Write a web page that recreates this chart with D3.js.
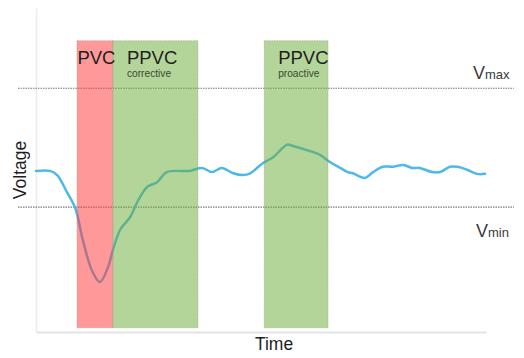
<!DOCTYPE html>
<html>
<head>
<meta charset="utf-8">
<script src="https://cdn.jsdelivr.net/npm/d3@7"></script>
<style>
  html, body { margin: 0; padding: 0; background: #fff; }
  svg { display: block; font-family: "Liberation Sans", Arial, sans-serif; }
</style>
</head>
<body>
<svg id="chart" width="524" height="358"></svg>
<script>
// ---- data ----
const timePoints = [0, 3.1, 4.7, 6.9, 8.7, 10.4, 12.4, 14.2, 16, 17.1, 18.7, 20.9, 22.4, 24.7, 26.9, 29.1, 34.2, 36.9, 39.1, 41.3, 43.8, 46, 47.6, 50.4, 52.7, 55.8, 57.1, 60.2, 63.1, 65.3, 67.6, 69.3, 70.4, 73.1, 74.9, 77.1, 79.3, 81.6, 83.6, 85.3, 88, 89.8, 92, 93.6, 95.8, 98, 99.8];
const voltage = [0.961, 0.961, 0.954, 0.925, 0.899, 0.845, 0.794, 0.774, 0.799, 0.828, 0.862, 0.883, 0.907, 0.934, 0.942, 0.959, 0.961, 0.966, 0.959, 0.966, 0.957, 0.954, 0.957, 0.974, 0.984, 1.005, 1.003, 0.996, 0.988, 0.976, 0.966, 0.959, 0.957, 0.949, 0.959, 0.968, 0.968, 0.971, 0.966, 0.966, 0.959, 0.959, 0.968, 0.968, 0.963, 0.956, 0.956];
const zoneNames = ["PVC", "PPVC", "PPVC"];
const zoneSubs = ["", "corrective", "proactive"];
const zoneStart = [9.1, 17.1, 50.7];
const zoneEnd = [17.1, 36.0, 64.9];
const zoneKind = ["red", "green", "green"];
const zoneLow = 0.697, zoneHigh = 1.18;
const limitNames = ["max", "min"];
const limitValues = [1.1, 0.9];
const limitLineStart = -4, limitLineEnd = 106.2;
const xTitle = "Time", yTitle = "Voltage";

// ---- scales ----
const svg = d3.select("#chart");
const x = d3.scaleLinear().domain([0, 100]).range([36, 486]);
const y = d3.scaleLinear().domain([0.69, 1.235]).range([332, 8]);

// axes (plain lines, no ticks)
const xAxis = d3.axisBottom(x).tickValues([]).tickSizeOuter(0);
const yAxis = d3.axisLeft(y).tickValues([]).tickSizeOuter(0);
svg.append("g").attr("transform", `translate(0,${y(0.69)})`).call(xAxis)
  .select(".domain").attr("stroke", "#e3e3e3").attr("stroke-width", 2);
svg.append("g").attr("transform", `translate(${x(0)},0)`).call(yAxis)
  .select(".domain").attr("stroke", "#ececec").attr("stroke-width", 1.5);

// limit lines
svg.selectAll(".limit").data(limitValues).join("line")
  .attr("x1", x(limitLineStart)).attr("x2", x(limitLineEnd))
  .attr("y1", d => y(d)).attr("y2", d => y(d))
  .attr("stroke", "#7a7a7a").attr("stroke-width", 1.2)
  .attr("stroke-dasharray", "1.5,1");

// voltage curve
const pts = timePoints.map((t, i) => [t, voltage[i]]);
svg.append("path").datum(pts)
  .attr("fill", "none").attr("stroke", "#4cb9e8").attr("stroke-width", 2.5)
  .attr("stroke-linecap", "round")
  .attr("d", d3.line().x(d => x(d[0])).y(d => y(d[1])).curve(d3.curveCatmullRom));

// zones (drawn on top, translucent)
const fills = { red: "#ff3b3b", green: "#6fae3e" };
zoneStart.forEach((s, i) => {
  svg.append("rect")
    .attr("x", x(s)).attr("y", y(zoneHigh))
    .attr("width", x(zoneEnd[i]) - x(s)).attr("height", y(zoneLow) - y(zoneHigh))
    .attr("fill", fills[zoneKind[i]]).attr("fill-opacity", 0.52)
    .attr("stroke", "#999").attr("stroke-opacity", 0.6).attr("stroke-width", 0.8)
    .attr("stroke-dasharray", "1.5,1");
});
// zone labels
zoneStart.forEach((s, i) => {
  const lx = i === 0 ? x(s) + 0.5 : x(s) + 14;
  svg.append("text").attr("x", lx).attr("y", y(zoneHigh) + 23)
    .attr("font-size", 18.5).attr("fill", "#1e1e1e").text(zoneNames[i]);
  if (zoneSubs[i]) {
    svg.append("text").attr("x", lx).attr("y", y(zoneHigh) + 36)
      .attr("font-size", 10.2).attr("fill", "#3a4a30").text(zoneSubs[i]);
  }
});

// limit labels
limitValues.forEach((v, i) => {
  const t = svg.append("text")
    .attr("x", i === 0 ? 473 : 476)
    .attr("y", i === 0 ? y(v) - 9 : y(v) + 30)
    .attr("fill", "#3a3a3a");
  t.append("tspan").attr("font-size", 18).text("V");
  t.append("tspan").attr("font-size", 13).text(limitNames[i]);
});

// axis titles
svg.append("text").attr("x", 274).attr("y", 350).attr("text-anchor", "middle")
  .attr("font-size", 17.5).attr("fill", "#1e1e1e").text(xTitle);
svg.append("text").attr("transform", `translate(26,170) rotate(-90)`)
  .attr("text-anchor", "middle").attr("font-size", 17.5).attr("fill", "#1e1e1e").text(yTitle);
</script>
</body>
</html>
